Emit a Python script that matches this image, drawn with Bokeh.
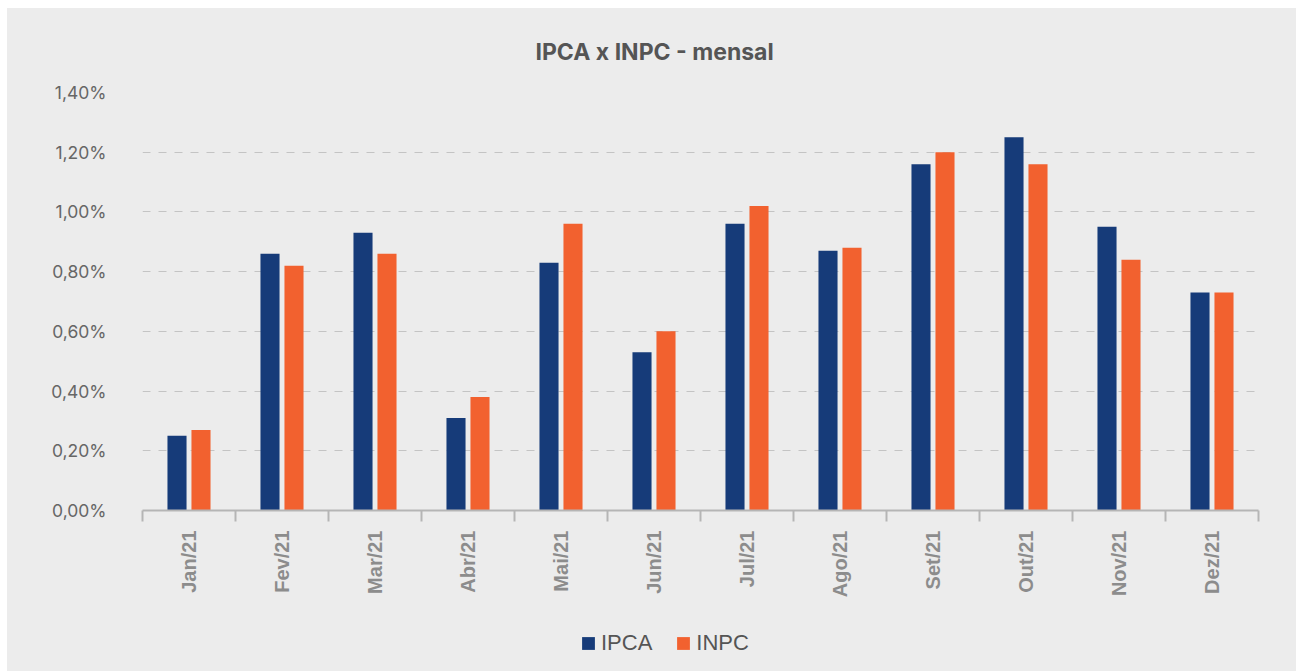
import math
from bokeh.plotting import figure
from bokeh.layouts import column
from bokeh.models import (Range1d, ColumnDataSource, LinearAxis,
                          FixedTicker, Legend, LegendItem)
from bokeh.transform import dodge
from bokeh.embed import file_html
from bokeh.resources import INLINE

months = ["Jan/21", "Fev/21", "Mar/21", "Abr/21", "Mai/21", "Jun/21",
          "Jul/21", "Ago/21", "Set/21", "Out/21", "Nov/21", "Dez/21"]
ipca = [0.25, 0.86, 0.93, 0.31, 0.83, 0.53, 0.96, 0.87, 1.16, 1.25, 0.95, 0.73]
inpc = [0.27, 0.82, 0.86, 0.38, 0.96, 0.60, 1.02, 0.88, 1.20, 1.16, 0.84, 0.73]
y_ticks = [0.0, 0.2, 0.4, 0.6, 0.8, 1.0, 1.2, 1.4]
y_tick_labels = ["0,00%", "0,20%", "0,40%", "0,60%", "0,80%", "1,00%", "1,20%", "1,40%"]
series = ["IPCA", "INPC"]
colors = ["#163b79", "#f2612f"]
title = "IPCA x INPC - mensal"

BG = "#ececec"
n = len(months)
centers = [i + 0.5 for i in range(n)]
src = ColumnDataSource(dict(x=centers, ipca=ipca, inpc=inpc))

p = figure(width=1289, height=607, x_range=Range1d(0, n), y_range=Range1d(0, 1.4),
           output_backend="svg", toolbar_location=None, x_axis_location=None,
           min_border_left=135, min_border_right=38, min_border_top=84, min_border_bottom=105)
p.background_fill_color = BG
p.border_fill_color = BG
p.outline_line_color = None

p.title.text = title
p.title.align = "left"
p.title.offset = 393
p.title.standoff = 53
p.title.text_font = "Inter"
p.title.text_font_style = "bold"
p.title.text_font_size = "23px"
p.title.text_color = "#555555"

p.vbar(x=dodge("x", -0.129), top="ipca", width=0.205, source=src,
       fill_color=colors[0], line_color=None)
p.vbar(x=dodge("x", 0.129), top="inpc", width=0.205, source=src,
       fill_color=colors[1], line_color=None)

# y axis
ya = p.yaxis[0]
ya.ticker = FixedTicker(ticks=y_ticks)
ya.major_label_overrides = {t: l for t, l in zip(y_ticks, y_tick_labels)}
ya.axis_line_color = None
ya.major_tick_line_color = None
ya.minor_tick_line_color = None
ya.major_label_text_font = "Inter"
ya.major_label_text_font_size = "17.5px"
ya.major_label_text_color = "#666666"
ya.major_label_standoff = 30

p.xgrid.grid_line_color = None
p.ygrid.ticker = FixedTicker(ticks=y_ticks[1:])
p.ygrid.grid_line_color = "#c4c4c4"
p.ygrid.grid_line_dash = "8 8"
p.ygrid.grid_line_width = 1

# tick axis at category boundaries
ta = LinearAxis(ticker=FixedTicker(ticks=list(range(n + 1))),
                major_label_text_font_size="0px", major_tick_out=11, major_tick_in=0,
                axis_line_color="#b5b5b5", axis_line_width=2,
                major_tick_line_color="#b5b5b5", major_tick_line_width=2,
                minor_tick_line_color=None, major_label_standoff=0)
p.add_layout(ta, "below")

# category label axis
ca = LinearAxis(ticker=FixedTicker(ticks=centers),
                major_label_overrides={c: m for c, m in zip(centers, months)},
                axis_line_color=None, major_tick_line_color=None, minor_tick_line_color=None,
                major_label_orientation=math.pi / 2,
                major_label_text_font="Liberation Sans",
                major_label_text_font_style="bold",
                major_label_text_font_size="20px",
                major_label_text_color="#8c8c8c",
                major_label_standoff=3)
p.add_layout(ca, "below")

# legend strip (its bars sit outside the visible y range; only the legend shows)
lf = figure(width=1289, height=56, x_range=Range1d(0, n), y_range=Range1d(10, 11),
            output_backend="svg", toolbar_location=None, min_border=0)
lf.axis.visible = False
lf.grid.visible = False
lf.background_fill_color = BG
lf.border_fill_color = BG
lf.outline_line_color = None
items = []
for name, col, vals in zip(series, colors, [ipca, inpc]):
    r = lf.vbar(x=centers, top=vals, width=0.2, fill_color=col, line_color=None)
    items.append(LegendItem(label=name, renderers=[r]))
legend = Legend(items=items, orientation="horizontal", location=(438, 15),
                glyph_width=16, glyph_height=16, label_standoff=5, spacing=23,
                label_text_font="Liberation Sans", label_text_font_size="22px",
                label_text_color="#555555", padding=0, margin=0,
                background_fill_alpha=0, border_line_color=None)
lf.add_layout(legend)

layout = column(p, lf, spacing=0, margin=(8, 0, 0, 7), styles={"background-color": BG})
open("out.html", "w").write(file_html(layout, INLINE))
